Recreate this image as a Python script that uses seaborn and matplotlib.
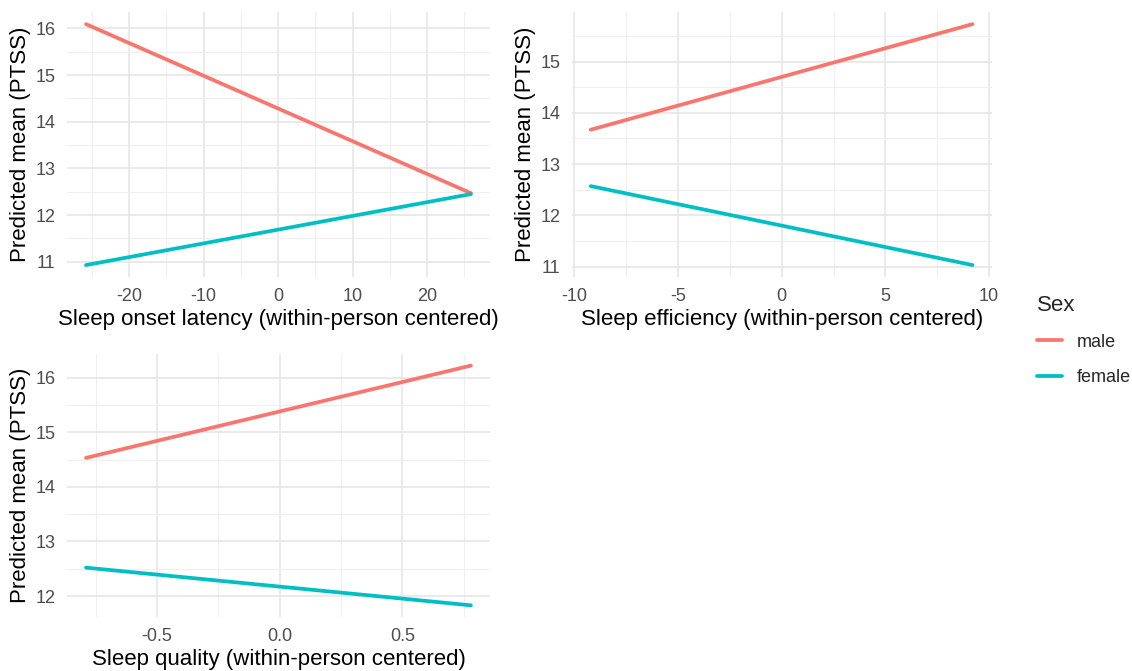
import pandas as pd
import matplotlib
matplotlib.use("Agg")
import matplotlib.pyplot as plt
from matplotlib.ticker import MultipleLocator, FormatStrFormatter
from matplotlib.lines import Line2D
import seaborn as sns

# predicted means at the ends of each range
sex = ["male", "male", "female", "female"]
onset_x = [-25.8, 25.9, -25.8, 25.9]
onset_y = [16.09, 12.47, 10.93, 12.45]
eff_x = [-9.2, 9.2, -9.2, 9.2]
eff_y = [13.67, 15.73, 12.57, 11.03]
qual_x = [-0.79, 0.78, -0.79, 0.78]
qual_y = [14.53, 16.22, 12.52, 11.83]

palette = {"male": "#F8766D", "female": "#00BFC4"}

sns.set_theme(style="whitegrid")
plt.rcParams["font.family"] = ["Liberation Sans", "DejaVu Sans"]
plt.rcParams["axes.unicode_minus"] = False

fig = plt.figure(figsize=(11.32, 6.71), dpi=100)
ax1 = fig.add_axes([0.059, 0.587, 0.374, 0.395])
ax2 = fig.add_axes([0.505, 0.587, 0.371, 0.395])
ax3 = fig.add_axes([0.059, 0.080, 0.374, 0.393])

panels = [
    (ax1, onset_x, onset_y, "Sleep onset latency (within-person centered)", 10, 1, "%d"),
    (ax2, eff_x, eff_y, "Sleep efficiency (within-person centered)", 5, 1, "%d"),
    (ax3, qual_x, qual_y, "Sleep quality (within-person centered)", 0.5, 1, "%.1f"),
]

for ax, xs, ys, xlabel, xstep, ystep, fmt in panels:
    df = pd.DataFrame({"x": xs, "y": ys, "Sex": sex})
    sns.lineplot(data=df, x="x", y="y", hue="Sex", palette=palette,
                 linewidth=2.7, legend=False, ax=ax)
    ax.set_facecolor("white")
    for s in ax.spines.values():
        s.set_visible(False)
    ax.xaxis.set_major_locator(MultipleLocator(xstep))
    ax.xaxis.set_minor_locator(MultipleLocator(xstep / 2))
    ax.xaxis.set_major_formatter(FormatStrFormatter(fmt))
    ax.yaxis.set_major_locator(MultipleLocator(ystep))
    ax.yaxis.set_minor_locator(MultipleLocator(ystep / 2))
    ax.grid(which="major", color="#E6E6E6", linewidth=1.2)
    ax.grid(which="minor", color="#EFEFEF", linewidth=0.8)
    ax.tick_params(which="both", length=0, labelsize=13, labelcolor="#4D4D4D")
    ax.tick_params(axis="x", pad=7.5)
    ax.tick_params(axis="y", pad=8)
    ax.set_xlabel(xlabel, fontsize=16, color="black", labelpad=3)
    ax.set_ylabel("Predicted mean (PTSS)", fontsize=16, color="black", labelpad=3)
    ax.margins(x=0.05, y=0.05)

handles = [Line2D([0], [0], color=palette[k], lw=2.7) for k in ["male", "female"]]
leg = fig.legend(handles, ["male", "female"], title="Sex", loc="upper left",
                 bbox_to_anchor=(0.902, 0.585), frameon=False, fontsize=13,
                 title_fontsize=16, handlelength=1.35, labelspacing=1.0,
                 handletextpad=0.85)
leg._legend_box.align = "left"

fig.savefig("out.png", dpi=100)
